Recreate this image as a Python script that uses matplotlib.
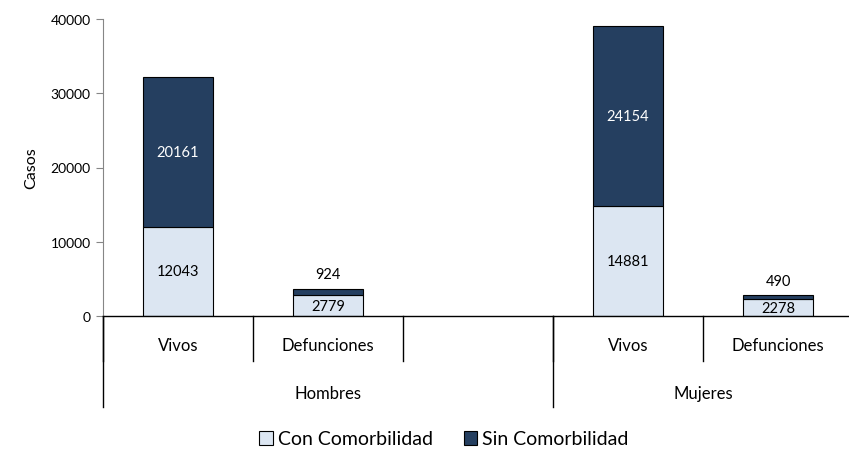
import numpy as np
import matplotlib.pyplot as plt
from matplotlib.patches import Patch

plt.rcParams['font.family'] = ['Lato', 'DejaVu Sans']

groups = ["Hombres", "Mujeres"]
group_sizes = [3, 2]
subcats = ["Vivos", "Defunciones", "", "Vivos", "Defunciones"]
con_com = [12043, 2779, np.nan, 14881, 2278]
sin_com = [20161, 924, np.nan, 24154, 490]

LIGHT = "#dce6f2"
DARK = "#253f60"

fig = plt.figure(figsize=(8.49, 4.56), dpi=100)
ax = fig.add_axes([103 / 849, 139 / 456, 750 / 849, 297 / 456])

x = np.arange(len(subcats))
w = 0.467
con = np.array(con_com, dtype=float)
sin = np.array(sin_com, dtype=float)
ax.bar(x, con, w, color=LIGHT, edgecolor="black", linewidth=0.8, label="Con Comorbilidad")
ax.bar(x, sin, w, bottom=con, color=DARK, edgecolor="black", linewidth=0.8, label="Sin Comorbilidad")

for xi, c, s in zip(x, con, sin):
    if np.isnan(c):
        continue
    ax.text(xi, c / 2, f"{int(c)}", ha="center", va="center", fontsize=10.5, color="black")
    if s > 3000:
        ax.text(xi, c + s / 2, f"{int(s)}", ha="center", va="center", fontsize=10.5, color="white")
    else:
        ax.text(xi, c + s + 2000, f"{int(s)}", ha="center", va="center", fontsize=10.5, color="black")

ax.set_xlim(-0.5, len(subcats) - 0.5)
ax.set_ylim(0, 40000)
ax.set_yticks(np.arange(0, 40001, 10000))
ax.tick_params(axis="y", labelsize=10, length=5, color="#868686", pad=4)
ax.set_xticks([])
for sp in ["top", "right"]:
    ax.spines[sp].set_visible(False)
ax.spines["left"].set_color("#868686")
ax.spines["bottom"].set_color("black")
ax.spines["bottom"].set_linewidth(1.0)
ax.set_ylabel("Casos", fontsize=11.5, labelpad=9)

# multi-level category axis
tr = ax.get_xaxis_transform()
lvl1 = -45 / 297
lvl2 = -91 / 297
for i, lab in enumerate(subcats):
    ax.text(i, -29 / 297, lab, transform=tr, ha="center", va="center", fontsize=12)
for i in range(len(subcats) + 1):
    ax.plot([i - 0.5, i - 0.5], [0, lvl1], transform=tr, color="black", lw=1.0, clip_on=False)
start = 0
for g, n in zip(groups, group_sizes):
    ax.plot([start - 0.5, start - 0.5], [0, lvl2], transform=tr, color="black", lw=1.0, clip_on=False)
    ax.text(start + n / 2 - 0.5, -77 / 297, g, transform=tr, ha="center", va="center", fontsize=12)
    start += n
ax.plot([start - 0.5, start - 0.5], [0, lvl2], transform=tr, color="black", lw=1.0, clip_on=False)

handles = [Patch(facecolor=LIGHT, edgecolor="black", linewidth=0.8),
           Patch(facecolor=DARK, edgecolor="black", linewidth=0.8)]
fig.legend(handles, ["Con Comorbilidad", "Sin Comorbilidad"], loc="center",
           bbox_to_anchor=(444 / 849, 1 - 440 / 456), ncol=2, frameon=False,
           fontsize=14, handlelength=0.7, handleheight=0.7, handletextpad=0.25,
           columnspacing=1.6)

fig.savefig("out.png", dpi=100)
